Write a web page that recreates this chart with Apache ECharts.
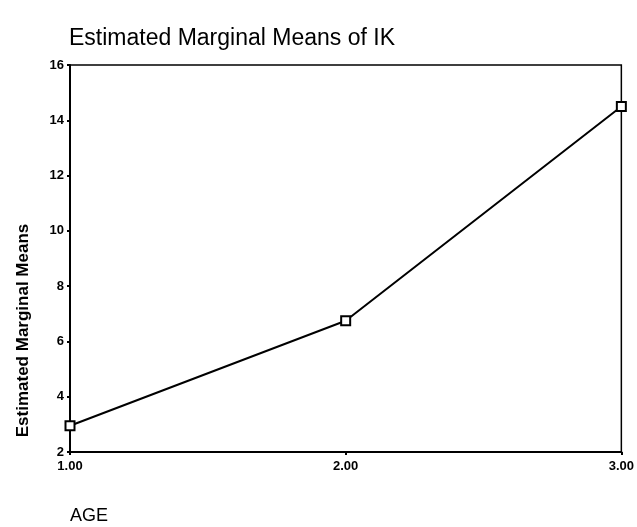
<!DOCTYPE html>
<html>
<head>
<meta charset="utf-8">
<script src="https://cdn.jsdelivr.net/npm/echarts@6/dist/echarts.min.js"></script>
<style>
  html, body { margin: 0; padding: 0; background: #fff; }
  #chart { width: 637px; height: 527px; }
</style>
</head>
<body>
<div id="chart"></div>
<script>
var chartDom = document.getElementById('chart');
var myChart = echarts.init(chartDom);

// data
var ageLevels = ['1.00', '2.00', '3.00'];
var marginalMeans = [2.95, 6.75, 14.5];

var option = {
  backgroundColor: '#fff',
  title: {
    text: 'Estimated Marginal Means of IK',
    left: 64,
    top: 22,
    textStyle: {
      color: '#000',
      fontFamily: 'Liberation Sans',
      fontWeight: 'normal',
      fontSize: 23
    }
  },
  grid: {
    left: 70,
    right: 15,
    top: 65,
    bottom: 75,
    show: true,
    borderColor: '#000',
    borderWidth: 1.5
  },
  xAxis: {
    type: 'category',
    data: ageLevels,
    boundaryGap: false,
    name: 'AGE',
    nameLocation: 'start',
    nameGap: 0,
    nameTextStyle: {
      color: '#000',
      fontFamily: 'Liberation Sans',
      fontSize: 18,
      align: 'left',
      verticalAlign: 'top',
      padding: [55, 0, 0, 0]
    },
    axisLine: { lineStyle: { color: '#000', width: 2 } },
    axisTick: { show: true, length: 3, lineStyle: { color: '#000', width: 2 } },
    axisLabel: {
      color: '#000',
      fontFamily: 'Liberation Sans',
      fontWeight: 'bold',
      fontSize: 13,
      margin: 8
    },
    splitLine: { show: false }
  },
  yAxis: {
    type: 'value',
    min: 2,
    max: 16,
    interval: 2,
    name: 'Estimated Marginal Means',
    nameLocation: 'middle',
    nameGap: 38,
    nameTextStyle: {
      color: '#000',
      fontFamily: 'Liberation Sans',
      fontWeight: 'bold',
      fontSize: 17,
      padding: [0, 144, 0, 0]
    },
    axisLine: { show: true, lineStyle: { color: '#000', width: 2 } },
    axisTick: { show: true, length: 3, lineStyle: { color: '#000', width: 2 } },
    axisLabel: {
      color: '#000',
      fontFamily: 'Liberation Sans',
      fontWeight: 'bold',
      fontSize: 13,
      margin: 6
    },
    splitLine: { show: false }
  },
  series: [
    {
      type: 'line',
      data: marginalMeans,
      symbol: 'rect',
      symbolSize: 9,
      lineStyle: { color: '#000', width: 2 },
      itemStyle: { color: '#fff', borderColor: '#000', borderWidth: 2 }
    }
  ]
};

myChart.setOption(option);

window.onresize = () => {
  myChart.resize();
}
</script>
</body>
</html>
